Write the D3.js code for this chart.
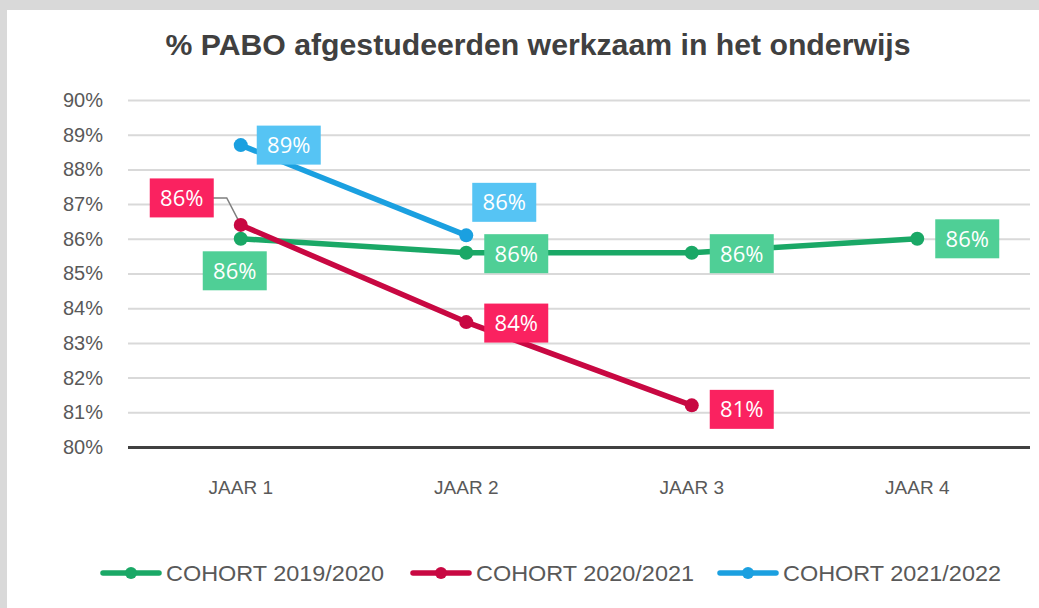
<!DOCTYPE html>
<html><head><meta charset="utf-8">
<script src="https://cdn.jsdelivr.net/npm/d3@7"></script>
<style>
html,body{margin:0;padding:0;background:#d9d9d9;}
svg{display:block;}
</style></head>
<body>
<svg id="c" width="1039" height="608"></svg>
<script>
const categories = ["JAAR 1","JAAR 2","JAAR 3","JAAR 4"];
const yTicks = [80,81,82,83,84,85,86,87,88,89,90];
const seriesNames = ["COHORT 2019/2020","COHORT 2020/2021","COHORT 2021/2022"];
const cohort2019 = [86.0, 85.6, 85.6, 86.0];
const cohort2020 = [86.4, 83.6, 81.2];
const cohort2021 = [88.7, 86.1];
const labels2019 = ["86%","86%","86%","86%"];
const labels2020 = ["86%","84%","81%"];
const labels2021 = ["89%","86%"];

const lineColors = ["#1aa866","#c80842","#1ba0e0"];
const boxColors = ["#4fcf96","#fa2260","#56c4f4"];
const FONT = "'Liberation Sans','Arial',sans-serif";

const svg = d3.select("#c");
svg.append("rect").attr("x",7).attr("y",10).attr("width",1032).attr("height",598).attr("fill","#fff");

const x = d3.scaleBand().domain(categories).range([128,1030]);
const y = d3.scaleLinear().domain([80,90]).range([447,100]);
const cx = c => x(c) + x.bandwidth()/2;

svg.append("text").attr("x",538).attr("y",55).attr("text-anchor","middle")
  .attr("font-family",FONT).attr("font-weight","bold")
  .attr("font-size",29).attr("fill","#404040")
  .attr("textLength",745).attr("lengthAdjust","spacingAndGlyphs")
  .text("% PABO afgestudeerden werkzaam in het onderwijs");

// grid
const yAxis = d3.axisLeft(y).tickValues(yTicks).tickSize(-(1030-128)).tickFormat(d=>d+"%");
const ga = svg.append("g").attr("transform","translate(128,0)").call(yAxis);
ga.select(".domain").remove();
ga.selectAll(".tick line").attr("stroke","#d9d9d9").attr("stroke-width",2);
ga.selectAll(".tick text").attr("x",-25).attr("font-family",FONT)
  .attr("font-size",20).attr("fill","#595959");
ga.selectAll(".tick").filter(d=>d===80).select("line").attr("stroke","#404040").attr("stroke-width",3);

const xAxis = d3.axisBottom(x).tickSize(0);
const gx = svg.append("g").attr("transform","translate(0,447)").call(xAxis);
gx.select(".domain").remove();
gx.selectAll(".tick text").attr("y",34).attr("font-family",FONT)
  .attr("font-size",19).attr("fill","#595959");

const series = [cohort2019, cohort2020, cohort2021];
const line = d3.line().x((d,i)=>cx(categories[i])).y(d=>y(d));

// leader line for red first label
svg.append("path")
  .attr("d", `M${cx(categories[0])-28},${y(86.4)-27} L${cx(categories[0])-14},${y(86.4)-27} L${cx(categories[0])},${y(cohort2020[0])}`)
  .attr("fill","none").attr("stroke","#7f7f7f").attr("stroke-width",1.5);

series.forEach((s,k)=>{
  svg.append("path").datum(s).attr("d",line).attr("fill","none")
    .attr("stroke",lineColors[k]).attr("stroke-width",5.5).attr("stroke-linejoin","round");
  svg.selectAll(null).data(s).enter().append("circle")
    .attr("cx",(d,i)=>cx(categories[i])).attr("cy",d=>y(d)).attr("r",7).attr("fill",lineColors[k]);
});

// label offsets (relative to point): dx, dy of box center
const lblOff = [
  [[-6,32],[50,1],[50,1],[50,0]],
  [[-59,-27],[50,1],[50,4]],
  [[48,0],[38,-33]]
];
const lblTexts = [labels2019, labels2020, labels2021];
series.forEach((s,k)=>{
  s.forEach((v,i)=>{
    const px = cx(categories[i]) + lblOff[k][i][0];
    const py = y(v) + lblOff[k][i][1];
    const w = 64, h = 39;
    svg.append("rect").attr("x",px-w/2).attr("y",py-h/2).attr("width",w).attr("height",h).attr("fill",boxColors[k]);
    svg.append("text").attr("x",px).attr("y",py+8).attr("text-anchor","middle")
      .attr("font-family","'Open Sans',sans-serif").attr("font-size",22).attr("fill","#fff")
      .text(lblTexts[k][i]);
  });
});

// legend
const legX = [103, 413, 720];
seriesNames.forEach((n,k)=>{
  const g = svg.append("g").attr("transform",`translate(${legX[k]},573)`);
  g.append("line").attr("x1",0).attr("x2",56).attr("y1",0).attr("y2",0)
    .attr("stroke",lineColors[k]).attr("stroke-width",5.5).attr("stroke-linecap","round");
  g.append("circle").attr("cx",28).attr("cy",0).attr("r",6).attr("fill",lineColors[k]);
  g.append("text").attr("x",63).attr("y",8).attr("font-family",FONT)
    .attr("font-size",22).attr("fill","#595959")
    .attr("textLength",218).attr("lengthAdjust","spacingAndGlyphs").text(n);
});
</script>
</body></html>
